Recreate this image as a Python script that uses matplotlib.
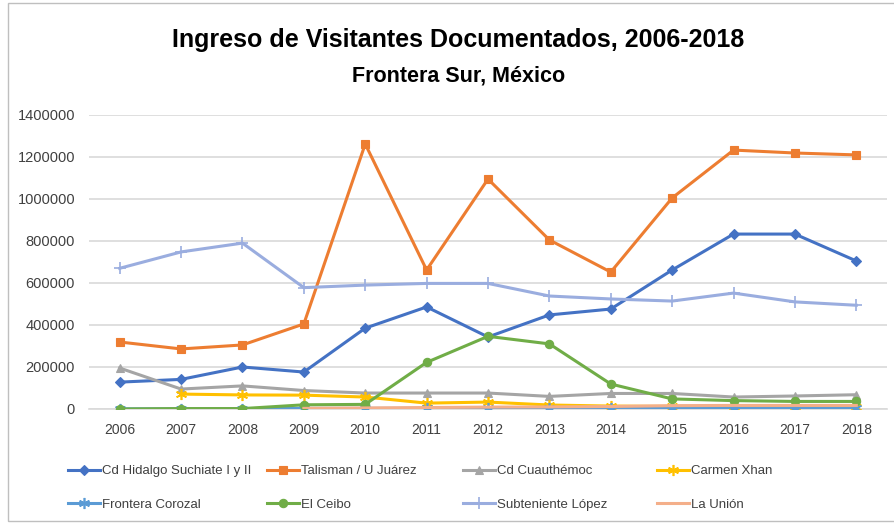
import matplotlib.pyplot as plt
import matplotlib.patches as mpatches
import matplotlib.ticker as mticker
import numpy as np

years = [2006, 2007, 2008, 2009, 2010, 2011, 2012, 2013, 2014, 2015, 2016, 2017, 2018]
nan = np.nan

cd_hidalgo = [128000, 141000, 200000, 176000, 385000, 486000, 343000, 448000, 476000, 662000, 833000, 833000, 705000]
talisman = [319000, 286000, 305000, 405000, 1262000, 662000, 1095000, 805000, 652000, 1005000, 1233000, 1219000, 1210000]
cd_cuauhtemoc = [195000, 95000, 110000, 88000, 76000, 76000, 76000, 60000, 74000, 74000, 57000, 62000, 68000]
carmen_xhan = [nan, 71000, 67000, 66000, 57000, 28000, 33000, 19000, 14000, 12000, 11000, 10000, 9000]
frontera_corozal = [1000, 1000, 1000, 3000, 3000, 3000, 3000, 3000, 3000, 3000, 3000, 3000, 3000]
el_ceibo = [0, 2000, 2000, 20000, 22000, 222000, 346000, 310000, 119000, 48000, 40000, 36000, 36000]
subteniente = [670000, 748000, 790000, 578000, 590000, 598000, 598000, 538000, 524000, 514000, 552000, 510000, 494000]
la_union = [nan, nan, nan, 3000, 5000, 7000, 9000, 10000, 12000, 16000, 17000, 17000, 17000]

series = [
    ('Cd Hidalgo Suchiate I y II', cd_hidalgo, '#4472C4', 'D', 5),
    ('Talisman / U Juárez', talisman, '#ED7D31', 's', 6),
    ('Cd Cuauthémoc', cd_cuauhtemoc, '#A5A5A5', '^', 6),
    ('Carmen Xhan', carmen_xhan, '#FFC000', (6, 2, 0), 8),
    ('Frontera Corozal', frontera_corozal, '#5B9BD5', (6, 2, 0), 8),
    ('El Ceibo', el_ceibo, '#70AD47', 'o', 6),
    ('Subteniente López', subteniente, '#9AADDF', '+', 8),
    ('La Unión', la_union, '#F4AF8A', None, 0),
]

plt.rcParams['font.family'] = ['Liberation Sans', 'DejaVu Sans']

fig = plt.figure(figsize=(8.95, 5.24), dpi=100)
ax = fig.add_axes([89 / 895, 1 - 409 / 524, 798 / 895, 294 / 524])

# outer chart frame
fig.patches.append(mpatches.Rectangle((8 / 895, 3 / 524), 1.0, 1 - 6 / 524, transform=fig.transFigure,
                                      fill=False, edgecolor='#BFBFBF', linewidth=1, zorder=0))

lines = []
for name, vals, col, mk, ms in series:
    ln, = ax.plot(years, vals, color=col, linewidth=2.2, marker=mk, markersize=ms,
                  markeredgewidth=1.2 if mk in ('+',) or isinstance(mk, tuple) else 0.8,
                  markeredgecolor=col, markerfacecolor=col, label=name, zorder=3)
    lines.append(ln)

ax.set_xlim(2005.5, 2018.5)
ax.set_ylim(0, 1400000)
ax.set_xticks(years)
ax.set_yticks(np.arange(0, 1400001, 200000))
ax.yaxis.set_major_formatter(mticker.FuncFormatter(lambda v, p: '%d' % v))
ax.yaxis.grid(True, color='#D9D9D9', linewidth=1.2)
ax.set_axisbelow(True)
for s in ['top', 'right', 'left']:
    ax.spines[s].set_visible(False)
ax.spines['bottom'].set_color('#D9D9D9')
ax.spines['bottom'].set_linewidth(1.2)
ax.tick_params(axis='both', length=0, colors='#404040')
ax.tick_params(axis='x', pad=10, labelsize=10)
ax.tick_params(axis='y', pad=10, labelsize=10.5)

fig.text(0.512, 1 - 40 / 524, 'Ingreso de Visitantes Documentados, 2006-2018', ha='center', va='center',
         fontsize=18, fontweight='bold', color='#000000')
fig.text(0.512, 1 - 76 / 524, 'Frontera Sur, México', ha='center', va='center',
         fontsize=15.5, fontweight='bold', color='#000000')

col_x = [68, 267, 463, 657]
for c in range(4):
    hs = [lines[c], lines[c + 4]]
    fig.legend(hs, [h.get_label() for h in hs], loc='upper left',
               bbox_to_anchor=(col_x[c] / 895, 1 - 465 / 524), frameon=False,
               borderpad=0, borderaxespad=0, handlelength=2.4, handletextpad=0.2,
               labelspacing=1.6, fontsize=9.5, labelcolor='#404040')

fig.savefig('out.png', dpi=100)
